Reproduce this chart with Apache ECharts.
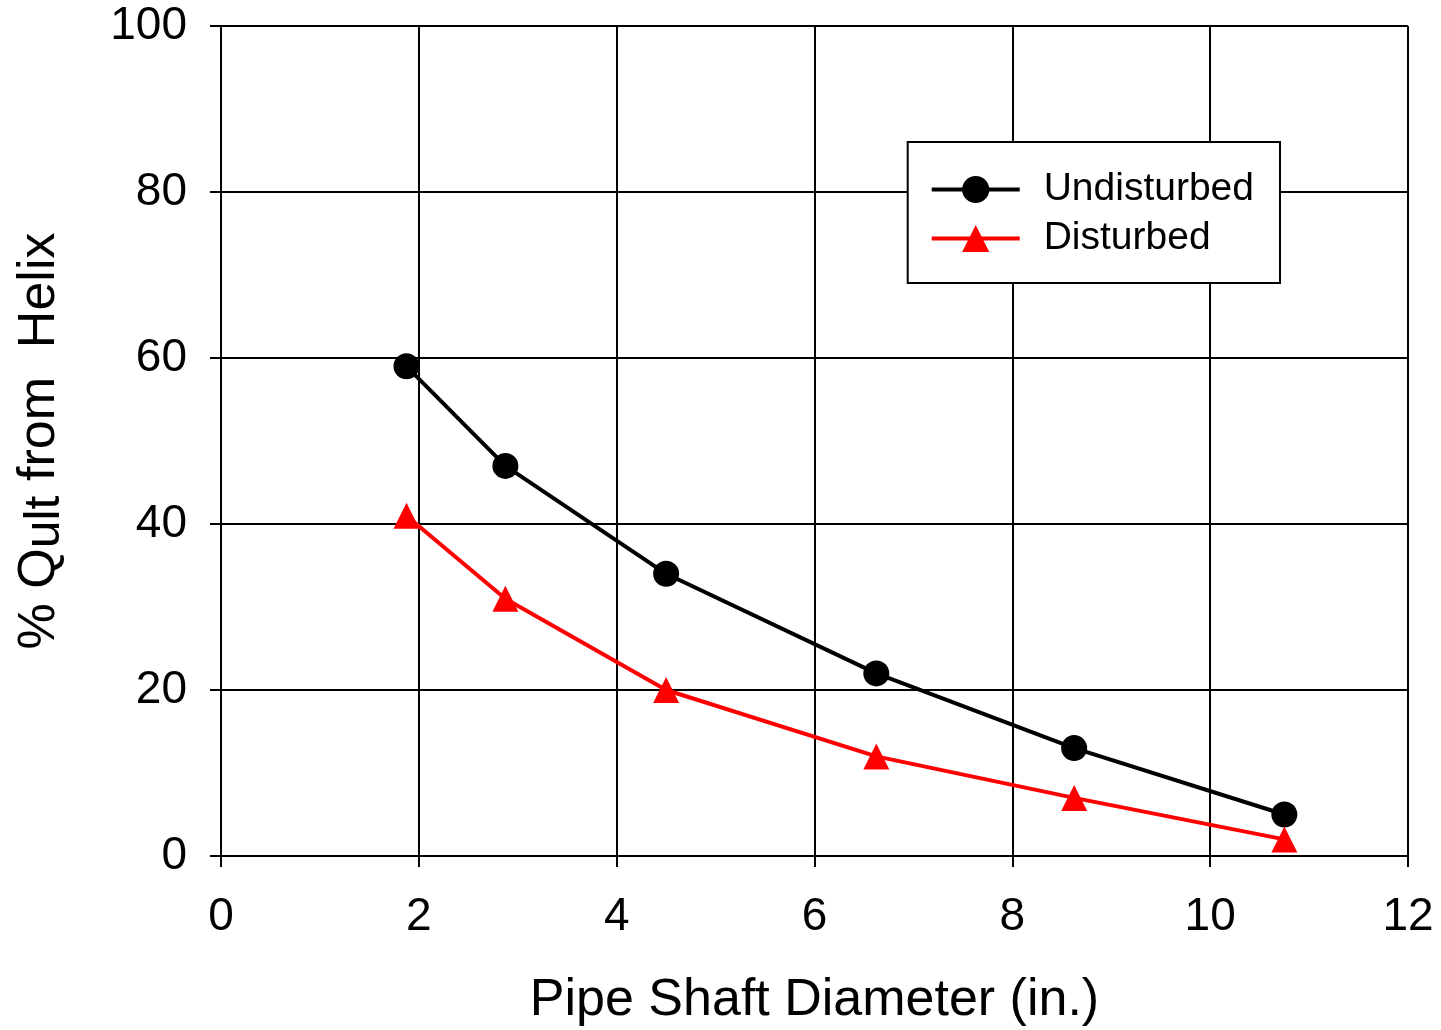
<!DOCTYPE html>
<html>
<head>
<meta charset="utf-8">
<script src="https://cdn.jsdelivr.net/npm/echarts@6/dist/echarts.min.js"></script>
<style>
  html, body { margin: 0; padding: 0; background: #fff; }
  #chart { width: 1441px; height: 1030px; }
</style>
</head>
<body>
<div id="chart"></div>
<script>
// Pipe outside diameters (in.)
const diameters = [1.875, 2.875, 4.5, 6.625, 8.625, 10.75];
// Share of ultimate capacity carried by the helix (%)
const undisturbed = [59, 47, 34, 22, 13, 5];
const disturbed = [41, 31, 20, 12, 7, 2];

const font = 'Liberation Sans, Arial, sans-serif';

const chart = echarts.init(document.getElementById('chart'));
chart.setOption({
  animation: false,
  backgroundColor: '#fff',
  grid: { left: 221, right: 33, top: 26, bottom: 174, containLabel: false, outerBoundsMode: 'none' },
  legend: {
    right: 161, top: 142,
    orient: 'vertical',
    backgroundColor: '#fff',
    borderColor: '#000',
    borderWidth: 2,
    borderRadius: 0,
    padding: [23, 26, 20, 22],
    itemGap: 0,
    itemWidth: 88,
    itemHeight: 34,
    lineStyle: { width: 4 },
    textStyle: { fontFamily: font, fontSize: 39, color: '#000', lineHeight: 49, padding: [0, 0, 0, 19] },
    data: ['Undisturbed', 'Disturbed']
  },
  xAxis: {
    type: 'value', min: 0, max: 12, interval: 2,
    name: 'Pipe Shaft Diameter (in.)',
    nameLocation: 'middle', nameGap: 115,
    nameTextStyle: { fontFamily: font, fontSize: 52, color: '#000', lineHeight: 60 },
    axisLine: { show: true, onZero: false, lineStyle: { color: '#000', width: 2 } },
    axisTick: { show: true, inside: false, length: 11, lineStyle: { color: '#000', width: 2 } },
    axisLabel: { fontFamily: font, fontSize: 46, color: '#000', margin: 38 },
    splitLine: { show: true, lineStyle: { color: '#000', width: 2 } }
  },
  yAxis: {
    type: 'value', min: 0, max: 100, interval: 20,
    name: '{a|% Q}{s|ult}{a| from  Helix}',
    nameLocation: 'middle', nameGap: 151, nameRotate: 90,
    nameTextStyle: {
      fontFamily: font, fontSize: 52, color: '#000',
      rich: {
        a: { fontFamily: font, fontSize: 52, color: '#000', lineHeight: 60 },
        s: { fontFamily: font, fontSize: 50, color: '#000', lineHeight: 48, verticalAlign: 'bottom' }
      }
    },
    axisLine: { show: true, lineStyle: { color: '#000', width: 2 } },
    axisTick: { show: true, inside: false, length: 11, lineStyle: { color: '#000', width: 2 } },
    axisLabel: { fontFamily: font, fontSize: 46, color: '#000', margin: 34 },
    splitLine: { show: true, lineStyle: { color: '#000', width: 2 } }
  },
  series: [
    {
      name: 'Undisturbed', type: 'line',
      data: diameters.map((d, i) => [d, undisturbed[i]]),
      symbol: 'circle', symbolSize: 26,
      lineStyle: { color: '#000', width: 4 },
      itemStyle: { color: '#000' }
    },
    {
      name: 'Disturbed', type: 'line',
      data: diameters.map((d, i) => [d, disturbed[i]]),
      symbol: 'triangle', symbolSize: 26,
      lineStyle: { color: '#ff0000', width: 4 },
      itemStyle: { color: '#ff0000' }
    }
  ]
});
</script>
</body>
</html>
